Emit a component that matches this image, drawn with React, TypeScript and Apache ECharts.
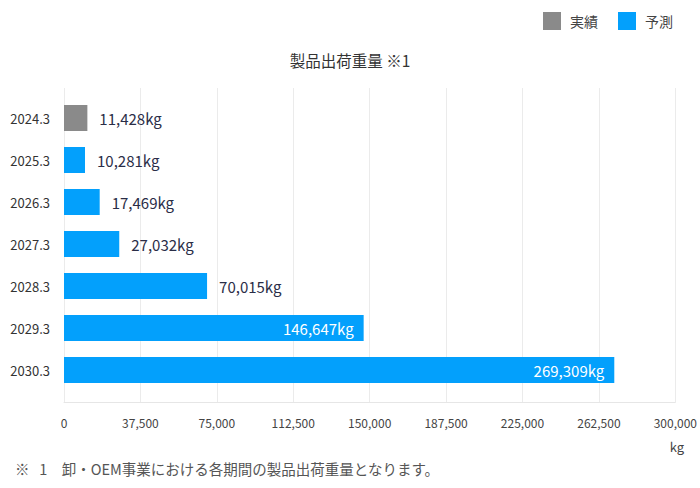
import React, { useEffect, useRef } from "react";
import * as echarts from "echarts";

const categories = ["2024.3", "2025.3", "2026.3", "2027.3", "2028.3", "2029.3", "2030.3"];
const actualValues: (number | null)[] = [11428, null, null, null, null, null, null];
const forecastValues: (number | null)[] = [null, 10281, 17469, 27032, 70015, 146647, 269309];
const seriesNames = ["実績", "予測"];
const xTicks = [0, 37500, 75000, 112500, 150000, 187500, 225000, 262500, 300000];
const titleText = "製品出荷重量 ※1";
const unitText = "kg";
const footnoteText = "※   1　卸・OEM事業における各期間の製品出荷重量となります。";

const FONT = "'Noto Sans CJK JP', 'Noto Sans', sans-serif";
const GRAY = "#8a8a8a";
const BLUE = "#03a0fc";
const TEXT = "#2a2d47";

const fmt = (v: number) => v.toLocaleString("en-US");

const buildData = (vals: (number | null)[]) =>
  vals.map((v) => {
    if (v == null) return null;
    const inside = v > 100000;
    return {
      value: v,
      label: inside
        ? { position: "insideRight", color: "#ffffff", distance: 10 }
        : { position: "right", color: TEXT, distance: 12 },
    };
  });

export default function App() {
  const ref = useRef<HTMLDivElement>(null);
  useEffect(() => {
    if (!ref.current) return;
    const chart = echarts.init(ref.current, undefined, { renderer: "svg" });
    const xMax = xTicks[xTicks.length - 1];
    const interval = xTicks[1] - xTicks[0];
    const labelCfg = {
      show: true,
      fontFamily: FONT,
      fontSize: 15,
      formatter: (p: any) => fmt(p.value) + "kg",
    };
    chart.setOption({
      animation: false,
      textStyle: { fontFamily: FONT },
      title: {
        text: titleText,
        left: "center",
        top: 47,
        textStyle: { fontFamily: FONT, fontSize: 15.5, fontWeight: "normal", color: "#333" },
      },
      legend: {
        right: 22,
        top: 7,
        itemWidth: 18,
        itemHeight: 18,
        itemGap: 20,
        icon: "rect",
        data: seriesNames,
        textStyle: { fontFamily: FONT, fontSize: 14, color: "#444", padding: [0, 0, 0, 4] },
      },
      graphic: [
        {
          type: "text",
          right: 16,
          top: 440,
          style: { text: unitText, font: `13px ${FONT}`, fill: "#444" },
        },
        {
          type: "text",
          left: 15,
          top: 461,
          style: { text: footnoteText, font: `14.5px ${FONT}`, fill: "#555" },
        },
      ],
      grid: [
        { left: 64, right: 23, top: 88, bottom: 86 },
        { left: 64, right: 23, top: 97, bottom: 97 },
      ],
      xAxis: [
        {
          gridIndex: 0,
          type: "value",
          min: 0,
          max: xMax,
          interval,
          axisLine: { show: true, lineStyle: { color: "#e6e6e6" } },
          axisTick: { show: false },
          splitLine: { show: true, lineStyle: { color: "#ebebeb" } },
          axisLabel: {
            fontFamily: FONT,
            fontSize: 12,
            color: "#444",
            margin: 14,
            formatter: (v: number) => fmt(v),
          },
        },
        {
          gridIndex: 1,
          type: "value",
          min: 0,
          max: xMax,
          interval,
          show: false,
        },
      ],
      yAxis: [
        {
          gridIndex: 0,
          type: "category",
          data: categories,
          show: false,
        },
        {
          gridIndex: 1,
          type: "category",
          inverse: true,
          data: categories,
          axisLine: { show: false },
          axisTick: { show: false },
          axisLabel: { fontFamily: FONT, fontSize: 13, color: "#333", margin: 14 },
        },
      ],
      series: [
        {
          name: seriesNames[0],
          type: "bar",
          xAxisIndex: 1,
          yAxisIndex: 1,
          stack: "t",
          barWidth: 26,
          itemStyle: { color: GRAY },
          label: labelCfg,
          data: buildData(actualValues),
        },
        {
          name: seriesNames[1],
          type: "bar",
          xAxisIndex: 1,
          yAxisIndex: 1,
          stack: "t",
          barWidth: 26,
          itemStyle: { color: BLUE },
          label: labelCfg,
          data: buildData(forecastValues),
        },
      ],
    });
    return () => chart.dispose();
  }, []);
  return (
    <div
      ref={ref}
      style={{ position: "fixed", left: 0, top: 0, width: 700, height: 488, background: "#fff" }}
    />
  );
}
